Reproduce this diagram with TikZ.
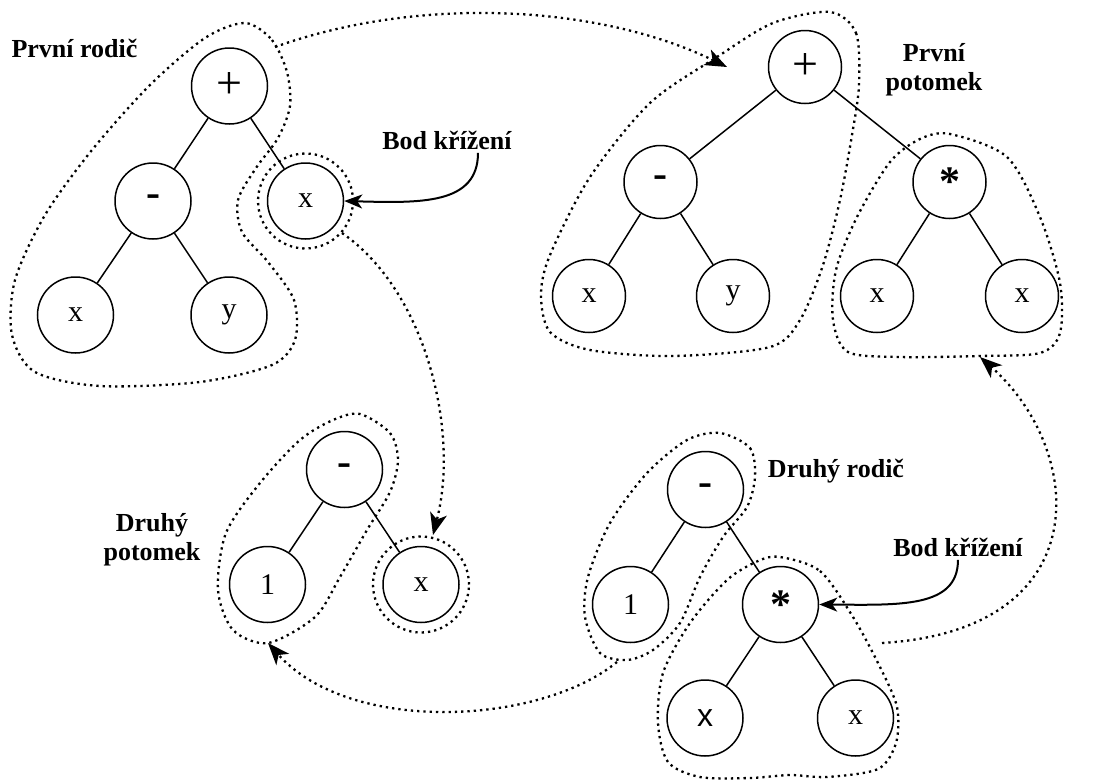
\documentclass[tikz,border=0pt]{standalone}
\usepackage{fontspec}
\setmainfont{Liberation Serif}
\newfontfamily\arialfont{Liberation Sans}
\usetikzlibrary{arrows.meta}

\begin{document}
\begin{tikzpicture}[x=1pt, y=-1pt,
    gnode/.style={circle, draw, line width=1.5pt, minimum size=76pt, inner sep=0pt, font=\fontsize{30}{30}\selectfont},
    gsmall/.style={gnode, minimum size=73pt},
    opplus/.style={font=\fontsize{46}{46}\selectfont},
    opbold/.style={font=\fontsize{42}{42}\selectfont\bfseries},
    edge/.style={line width=1.5pt},
    hull/.style={line width=2.3pt, dash pattern=on 2.3pt off 4pt},
    swap/.style={hull, -{Stealth[length=22pt, width=17pt, inset=6pt]}},
    pointer/.style={line width=2pt, -{Stealth[length=18pt, width=14pt, inset=5pt]}},
    lbl/.style={font=\fontsize{26}{29}\selectfont\bfseries, align=center}]

  \useasboundingbox (0,0) rectangle (1096,780);

  % First parent
  \begin{scope}
    \node[gnode, opplus] (p1) at (229.5,86) {+};
    \node[gnode, opbold] (m1) at (153,201) {-};
    \node[gnode] (c1) at (305.5,201) {x};
    \node[gnode] (a1) at (75.5,315) {x};
    \node[gnode] (b1) at (229,315) {y};
    \draw[edge] (p1) -- (m1);
    \draw[edge] (p1) -- (c1);
    \draw[edge] (m1) -- (a1);
    \draw[edge] (m1) -- (b1);
    \draw[hull] plot[smooth cycle] coordinates {(245,23) (272,40) (287,72) (290,106) (278,138) (256,168) (238,200) (242,232) (268,262) (294,300) (295,340) (272,365) (200,382) (100,386) (35,372) (12,335) (15,280) (45,215) (92,150) (150,85) (205,38)};
    \draw[hull] (c1) circle[radius=47.5pt];
    \node[lbl, anchor=west] (n1) at (8,48) {První rodič};
  \end{scope}

  % First offspring
  \begin{scope}
    \node[gsmall, opplus] (p3) at (805,67) {+};
    \node[gsmall, opbold] (m3) at (660.5,182) {-};
    \node[gsmall, opbold] (s3) at (949.5,182) {*};
    \node[gsmall] (a3) at (589,296) {x};
    \node[gsmall] (b3) at (733,296) {y};
    \node[gsmall] (c3) at (877,296) {x};
    \node[gsmall] (d3) at (1022,296) {x};
    \draw[edge] (p3) -- (m3);
    \draw[edge] (p3) -- (s3);
    \draw[edge] (m3) -- (a3);
    \draw[edge] (m3) -- (b3);
    \draw[edge] (s3) -- (c3);
    \draw[edge] (s3) -- (d3);
    \draw[hull] plot[smooth cycle] coordinates {(830,12) (856,33) (859,85) (852,135) (840,200) (823,265) (800,320) (770,347) (673,356) (590,350) (550,332) (541,295) (550,255) (590,177) (650,103) (717,57) (773,23)};
    \draw[hull] plot[smooth cycle] coordinates {(950,134) (1007,157) (1040,217) (1060,283) (1060,333) (1040,353) (980,356) (900,357) (848,352) (833,320) (836,270) (857,217) (890,162) (920,139)};
    \node[lbl] (n3) at (934,70) {První\\potomek};
  \end{scope}

  % Second offspring
  \begin{scope}
    \node[gnode, opbold] (m2) at (344.5,469.5) {-};
    \node[gnode] (a2) at (267.5,584.5) {1};
    \node[gnode] (b2) at (421,584.5) {x};
    \draw[edge] (m2) -- (a2);
    \draw[edge] (m2) -- (b2);
    \draw[hull] plot[smooth cycle] coordinates {(360,414) (390,433) (398,460) (390,492) (367,530) (340,577) (315,617) (268,643) (233,630) (218,590) (226,533) (260,483) (300,440) (333,420)};
    \draw[hull] (b2) circle[radius=48pt];
    \node[lbl] (n2) at (152,540) {Druhý\\potomek};
  \end{scope}

  % Second parent
  \begin{scope}
    \node[gnode, opbold] (m4) at (705.5,489.5) {-};
    \node[gnode] (a4) at (630.5,604.5) {1};
    \node[gnode, opbold] (s4) at (780.5,604.5) {*};
    \node[gnode, font=\fontsize{32}{32}\selectfont\arialfont] (c4) at (705,718) {x};
    \node[gnode] (d4) at (855.5,718) {x};
    \draw[edge] (m4) -- (a4);
    \draw[edge] (m4) -- (s4);
    \draw[edge] (s4) -- (c4);
    \draw[edge] (s4) -- (d4);
    \draw[hull] plot[smooth cycle] coordinates {(720,433) (750,448) (755,477) (747,507) (723,537) (700,577) (680,623) (653,650) (627,660) (600,653) (585,617) (588,577) (610,523) (647,473) (687,440)};
    \draw[hull] plot[smooth cycle] coordinates {(780,557) (820,571) (853,617) (880,667) (897,707) (896,743) (878,769) (827,777) (790,775) (750,778) (700,777) (668,762) (658,723) (663,673) (690,623) (727,580) (758,561)};
    \node[lbl] (n4) at (836,471) {Druhý rodič};
  \end{scope}

  % Crossover points
  \node[lbl] (k1) at (447,140) {Bod křížení};
  \node[lbl] (k2) at (958,547) {Bod křížení};
  \draw[pointer] (k1.south -| 478,0) .. controls (478,205) and (420,203) .. (c1.east);
  \draw[pointer] (k2.south) .. controls (958,608) and (900,605) .. (s4.east);

  % Swapped subtrees
  \coordinate (f1) at (275,47);
  \coordinate (t1) at (727,67);
  \coordinate (f2) at (342,233);
  \coordinate (t2) at (433,535);
  \coordinate (f3) at (617,662);
  \coordinate (t3) at (268,643);
  \coordinate (f4) at (882,643);
  \coordinate (t4) at (980,357);
  \draw[swap] (f1) .. controls (420,-5) and (600,5) .. (t1);
  \draw[swap] (f2) .. controls (425,290) and (460,430) .. (t2);
  \draw[swap] (f3) .. controls (540,725) and (350,735) .. (t3);
  \draw[swap] (f4) .. controls (1100,630) and (1085,450) .. (t4);

\end{tikzpicture}
\end{document}
